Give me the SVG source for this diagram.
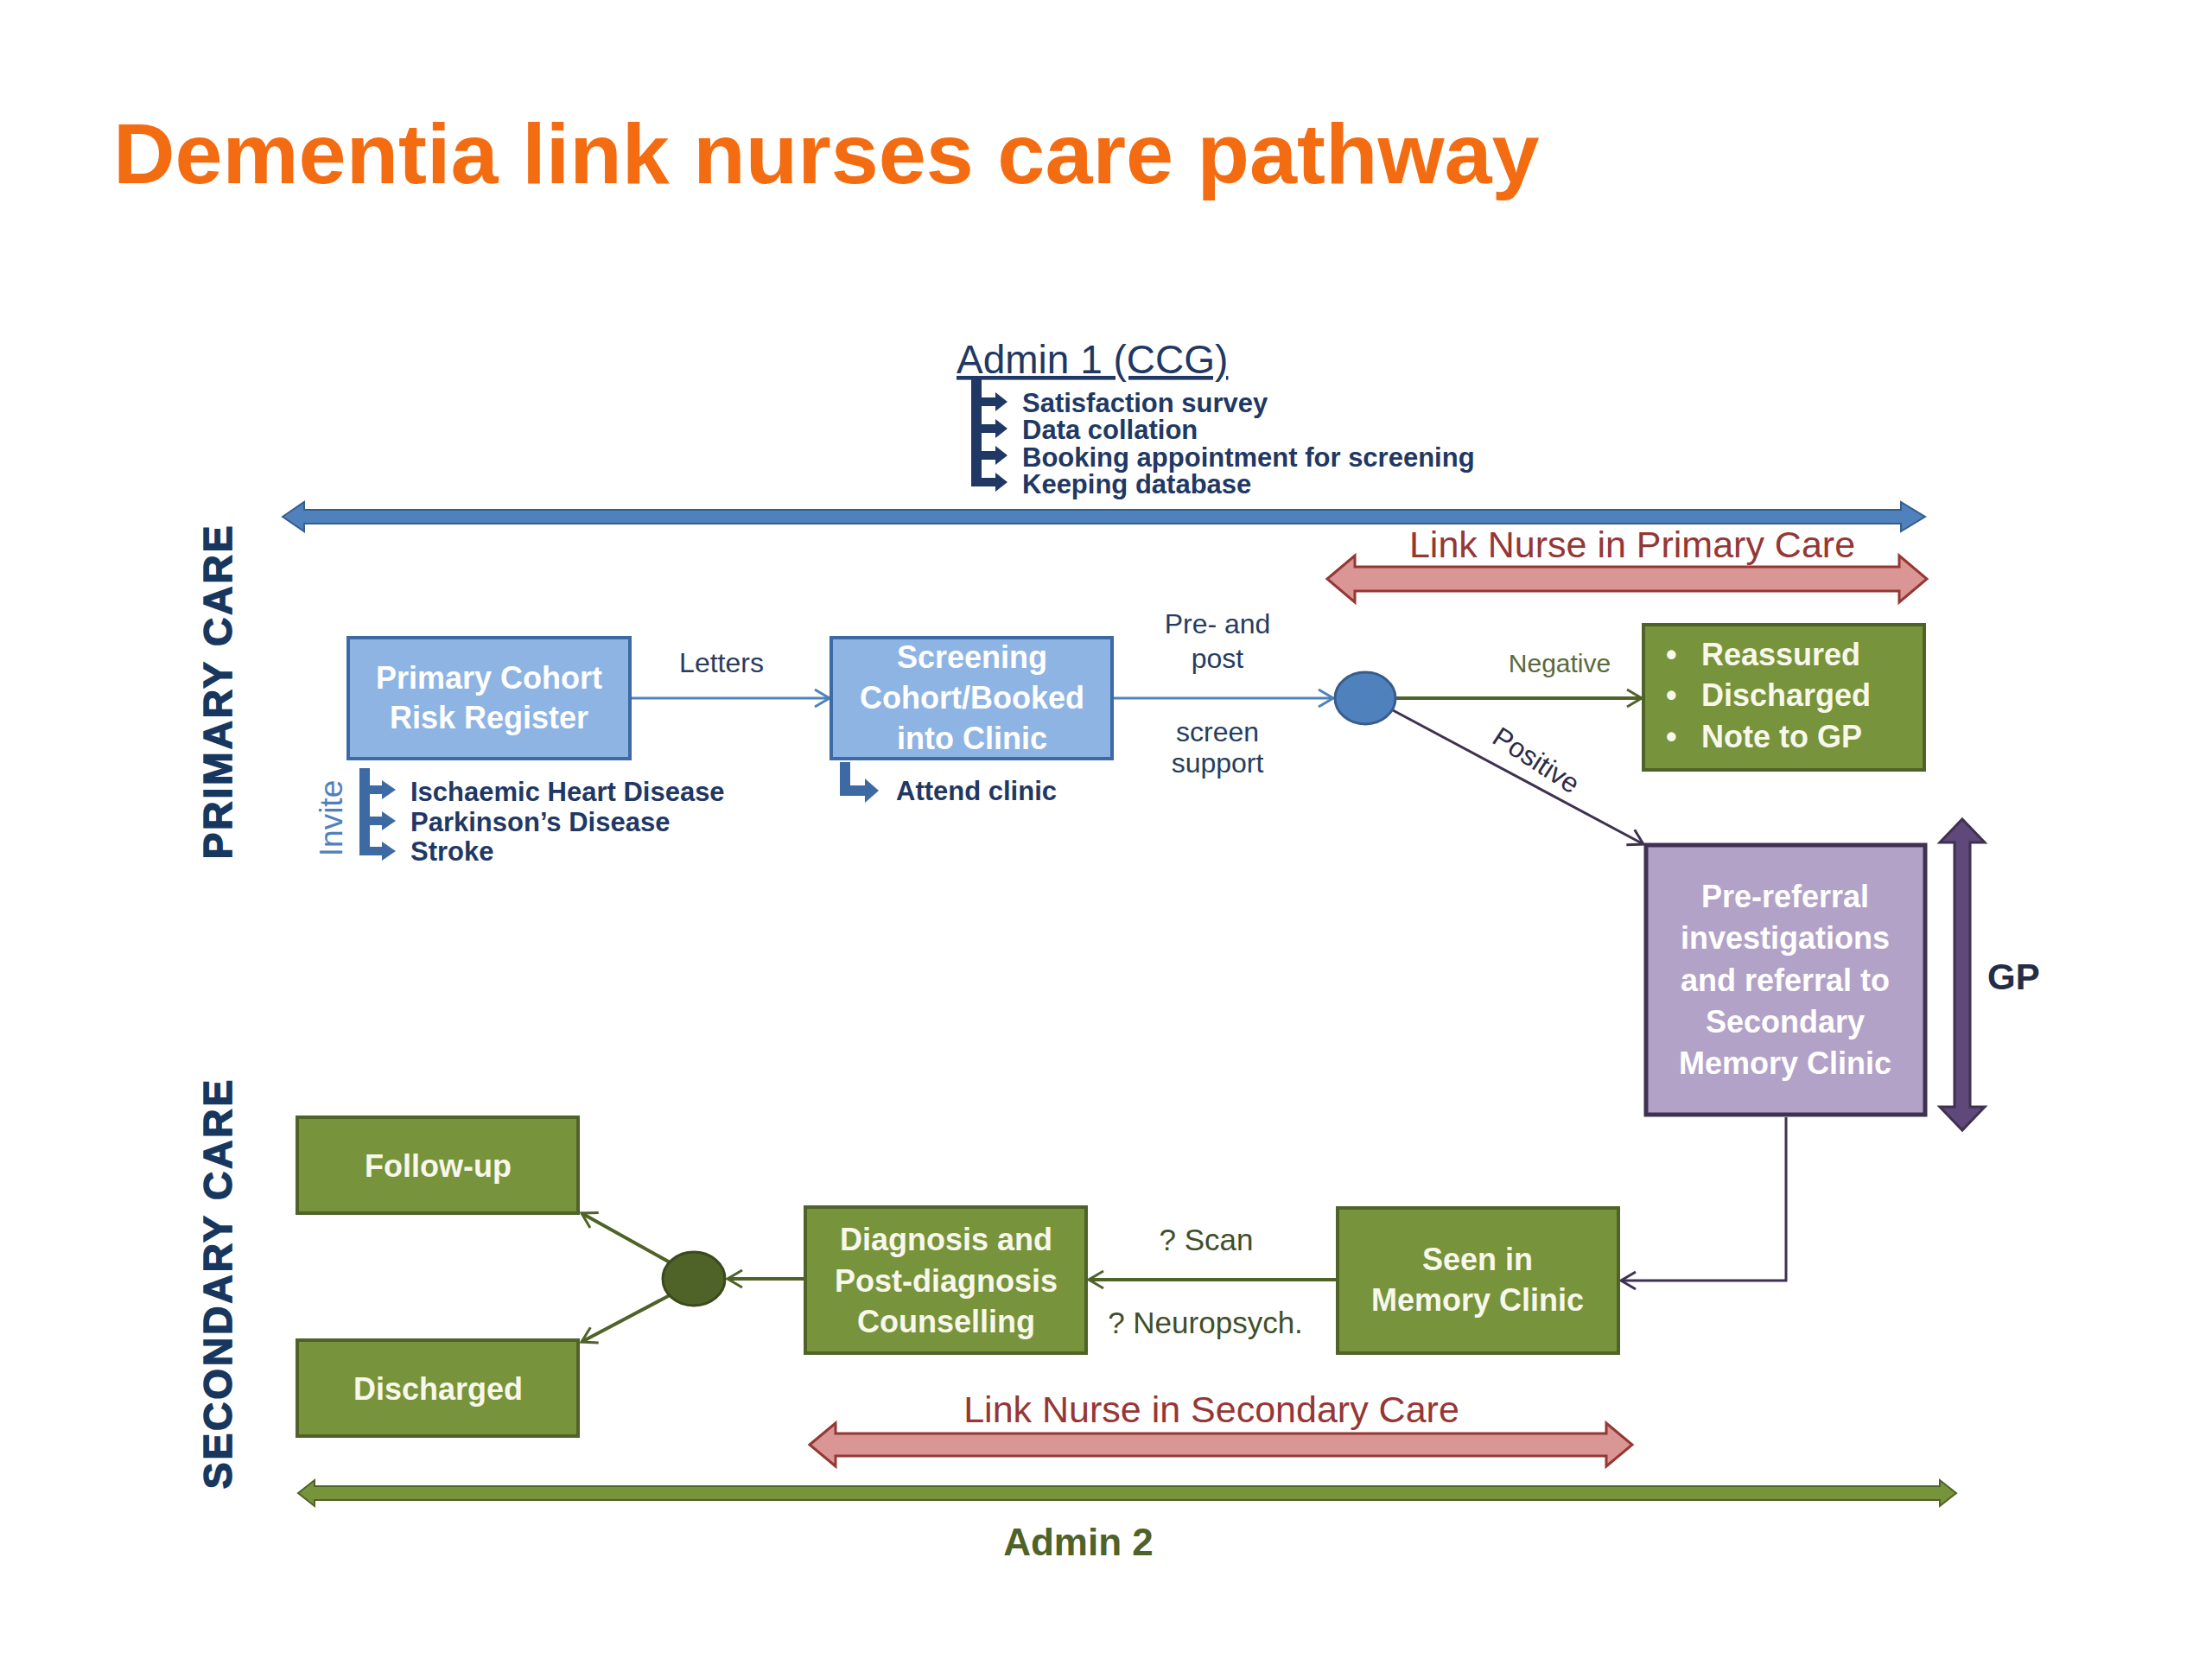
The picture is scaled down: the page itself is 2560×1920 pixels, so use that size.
<svg xmlns="http://www.w3.org/2000/svg" width="2560" height="1920" viewBox="0 0 2560 1920">
<defs>
<style>
text { font-family: "Liberation Sans", Arial, sans-serif; }
.title { font-size: 99px; font-weight: bold; fill: #f36c12; }
.bt { font-weight: bold; fill: #ffffff; text-anchor: middle; font-size: 36px; }
.st { text-anchor: start; }
.gt { fill: #f7f7ea; }
.blue { fill: #8eb4e3; stroke: #3d6aa5; stroke-width: 4; }
.green { fill: #77933c; stroke: #4f6228; stroke-width: 4; }
.purple { fill: #b3a2c7; stroke: #3f3151; stroke-width: 5; }
.lbl { fill: #263d60; font-size: 32px; text-anchor: middle; }
.glbl { fill: #3f4f2c; font-size: 35px; text-anchor: middle; }
.list { fill: #1f3864; font-size: 31px; font-weight: bold; }
.side { fill: #17375e; font-size: 46px; font-weight: bold; text-anchor: middle; letter-spacing: 3px; stroke: #17375e; stroke-width: 1.5; }
.conn { fill: none; stroke-width: 3; }
.cb { stroke: #4f81bd; marker-end: url(#ab); }
.cg { stroke: #4f6228; stroke-width: 4; marker-end: url(#ag); }
.cp { stroke: #3f3151; marker-end: url(#ap); }
.navy { fill: #1f3864; }
.mblue { fill: #3e6aa3; }
</style>
<marker id="ab" viewBox="0 0 24 24" refX="21" refY="12" markerWidth="24" markerHeight="24" markerUnits="userSpaceOnUse" orient="auto"><path d="M4,2 L21,12 L4,22" fill="none" stroke="#4f81bd" stroke-width="3"/></marker>
<marker id="ag" viewBox="0 0 24 24" refX="21" refY="12" markerWidth="24" markerHeight="24" markerUnits="userSpaceOnUse" orient="auto"><path d="M4,2 L21,12 L4,22" fill="none" stroke="#4f6228" stroke-width="3"/></marker>
<marker id="ap" viewBox="0 0 24 24" refX="21" refY="12" markerWidth="24" markerHeight="24" markerUnits="userSpaceOnUse" orient="auto"><path d="M4,2 L21,12 L4,22" fill="none" stroke="#3f3151" stroke-width="3"/></marker>
</defs>

<rect x="0" y="0" width="2560" height="1920" fill="#ffffff"/>

<text id="title" class="title" x="131" y="212">Dementia link nurses care pathway</text>

<!-- side labels -->
<text class="side" transform="translate(268,800) rotate(-90)">PRIMARY CARE</text>
<text class="side" transform="translate(268,1485) rotate(-90)">SECONDARY CARE</text>

<!-- Admin 1 block -->
<g id="admin1">
  <text x="1107" y="432" fill="#1f3864" font-size="46" text-decoration="underline">Admin 1 (CCG)</text>
  <path class="navy" d="M1124,438 H1136 V460 H1152 V454 L1166,465 L1152,476 V470 H1136 V491 H1152 V485 L1166,496 L1152,507 V501 H1136 V522 H1152 V516 L1166,527 L1152,538 V532 H1136 V553 H1152 V547 L1166,558 L1152,569 V563 H1124 Z"/>
  <text class="list" x="1183" y="477">Satisfaction survey</text>
  <text class="list" x="1183" y="508">Data collation</text>
  <text class="list" x="1183" y="540">Booking appointment for screening</text>
  <text class="list" x="1183" y="571">Keeping database</text>
</g>

<!-- span arrows -->
<g id="admin1-span">
  <path d="M327,598 L352,581 L352,590 L2200,590 L2200,581 L2228,598 L2200,615 L2200,606 L352,606 L352,615 Z" fill="#4f81bd" stroke="#385d8a" stroke-width="2"/>
</g>
<g id="link-nurse-primary">
  <path d="M1536,670 L1568,643 L1568,656 L2198,656 L2198,643 L2230,670 L2198,697 L2198,684 L1568,684 L1568,697 Z" fill="#d99694" stroke="#953735" stroke-width="3"/>
  <text x="1889" y="645" fill="#953735" font-size="43" text-anchor="middle">Link Nurse in Primary Care</text>
</g>
<g id="gp-span">
  <path d="M2271,948 L2297,975 L2280,975 L2280,1281 L2297,1281 L2271,1308 L2245,1281 L2262,1281 L2262,975 L2245,975 Z" fill="#5f497a" stroke="#3f3151" stroke-width="3"/>
  <text x="2300" y="1145" fill="#262c45" font-size="42" font-weight="bold">GP</text>
</g>
<g id="link-nurse-secondary">
  <path d="M937,1672 L967,1647 L967,1659 L1859,1659 L1859,1647 L1889,1672 L1859,1697 L1859,1685 L967,1685 L967,1697 Z" fill="#d99694" stroke="#953735" stroke-width="3"/>
  <text x="1402" y="1646" fill="#953735" font-size="43" text-anchor="middle">Link Nurse in Secondary Care</text>
</g>
<g id="admin2">
  <path d="M345,1728 L364,1713 L364,1720 L2245,1720 L2245,1713 L2264,1728 L2245,1743 L2245,1736 L364,1736 L364,1743 Z" fill="#77933c" stroke="#4f6228" stroke-width="2"/>
  <text x="1248" y="1800" fill="#4f6228" font-size="44" font-weight="bold" text-anchor="middle">Admin 2</text>
</g>

<!-- connectors -->
<g id="connectors">
  <path class="conn cb" d="M731,808 L960,808"/>
  <path class="conn cb" d="M1289,808 L1543,808"/>
  <path class="conn cg" d="M1616,808 L1900,808" stroke-width="3"/>
  <path class="conn cp" d="M1612,822 L1902,977"/>
  <path class="conn cp" d="M2067,1293 L2067,1482 L1876,1482"/>
  <path class="conn cg" d="M1546,1481 L1260,1481"/>
  <path class="conn cg" d="M930,1480 L842,1480"/>
  <path class="conn cg" d="M777,1462 L673,1404"/>
  <path class="conn cg" d="M777,1498 L673,1553"/>
  <text class="lbl" x="835" y="778">Letters</text>
  <text class="lbl" x="1409" y="733">Pre- and</text>
  <text class="lbl" x="1409" y="773">post</text>
  <text class="lbl" x="1409" y="858">screen</text>
  <text class="lbl" x="1409" y="894">support</text>
  <text x="1805" y="778" fill="#5a6a3c" font-size="30" text-anchor="middle">Negative</text>
  <text x="1772" y="889" fill="#2e2b48" font-size="32" text-anchor="middle" transform="rotate(33 1772 889)">Positive</text>
  <text class="glbl" x="1396" y="1447">? Scan</text>
  <text class="glbl" x="1395" y="1543">? Neuropsych.</text>
</g>

<!-- nodes -->
<g id="primary-cohort">
  <rect class="blue" x="403" y="738" width="326" height="140"/>
  <text class="bt" x="566" y="797">Primary Cohort</text>
  <text class="bt" x="566" y="843">Risk Register</text>
</g>
<g id="invite">
  <text x="0" y="0" fill="#4f81bd" font-size="37" text-anchor="middle" transform="translate(396,947) rotate(-90)">Invite</text>
  <path class="mblue" d="M416,889 H428 V909 H442 V903 L458,914 L442,925 V919 H428 V945 H442 V939 L458,950 L442,961 V955 H428 V980 H442 V974 L458,985 L442,996 V990 H416 Z"/>
  <text class="list" x="475" y="927">Ischaemic Heart Disease</text>
  <text class="list" x="475" y="962">Parkinson’s Disease</text>
  <text class="list" x="475" y="996">Stroke</text>
</g>
<g id="screening">
  <rect class="blue" x="962" y="738" width="325" height="140"/>
  <text class="bt" x="1125" y="773">Screening</text>
  <text class="bt" x="1125" y="820">Cohort/Booked</text>
  <text class="bt" x="1125" y="867">into Clinic</text>
</g>
<g id="attend-clinic">
  <path class="mblue" d="M972,882 H984 V909 H1001 V901 L1017,915 L1001,929 V921 H972 Z"/>
  <text class="list" x="1037" y="926">Attend clinic</text>
</g>
<g id="decision-primary">
  <ellipse cx="1580" cy="808" rx="35" ry="30" fill="#4f81bd" stroke="#385d8a" stroke-width="3"/>
</g>
<g id="reassured">
  <rect class="green" x="1902" y="723" width="325" height="168"/>
  <text class="bt gt st" x="1928" y="770">•</text>
  <text class="bt gt st" x="1928" y="817">•</text>
  <text class="bt gt st" x="1928" y="865">•</text>
  <text class="bt gt st" x="1969" y="770" font-size="35">Reassured</text>
  <text class="bt gt st" x="1969" y="817" font-size="35">Discharged</text>
  <text class="bt gt st" x="1969" y="865" font-size="35">Note to GP</text>
</g>
<g id="pre-referral">
  <rect class="purple" x="1905" y="978" width="323" height="312"/>
  <text class="bt" x="2066" y="1050">Pre-referral</text>
  <text class="bt" x="2066" y="1098">investigations</text>
  <text class="bt" x="2066" y="1147">and referral to</text>
  <text class="bt" x="2066" y="1195">Secondary</text>
  <text class="bt" x="2066" y="1243">Memory Clinic</text>
</g>
<g id="seen-memory-clinic">
  <rect class="green" x="1548" y="1398" width="325" height="168"/>
  <text class="bt gt" x="1710" y="1470">Seen in</text>
  <text class="bt gt" x="1710" y="1517">Memory Clinic</text>
</g>
<g id="diagnosis">
  <rect class="green" x="932" y="1397" width="325" height="169"/>
  <text class="bt gt" x="1095" y="1447" font-size="35">Diagnosis and</text>
  <text class="bt gt" x="1095" y="1495" font-size="35">Post-diagnosis</text>
  <text class="bt gt" x="1095" y="1542" font-size="35">Counselling</text>
</g>
<g id="decision-secondary">
  <ellipse cx="803" cy="1480" rx="36" ry="31" fill="#4f6228" stroke="#3b4a1e" stroke-width="3"/>
</g>
<g id="follow-up">
  <rect class="green" x="344" y="1293" width="325" height="111"/>
  <text class="bt gt" x="507" y="1362">Follow-up</text>
</g>
<g id="discharged">
  <rect class="green" x="344" y="1551" width="325" height="111"/>
  <text class="bt gt" x="507" y="1620">Discharged</text>
</g>
</svg>
